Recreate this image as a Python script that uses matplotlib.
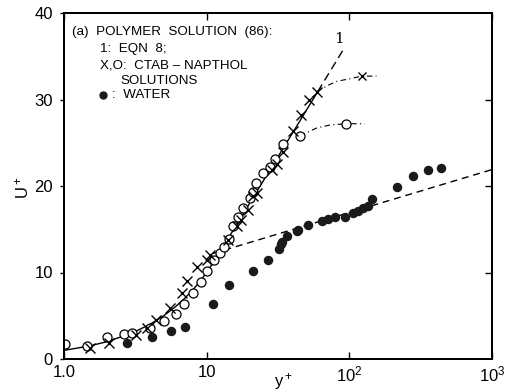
import matplotlib
matplotlib.use('Agg')
import matplotlib.pyplot as plt
from matplotlib.lines import Line2D

plt.rcParams['font.family'] = ['Liberation Sans', 'DejaVu Sans']
plt.rcParams['mathtext.fontset'] = 'custom'
plt.rcParams['mathtext.rm'] = 'Liberation Sans'
plt.rcParams['mathtext.it'] = 'Liberation Sans:italic'

# water data (filled dots)
water_y = [2.75, 4.12, 5.59, 7.05, 11.0, 14.3, 21.2, 26.8, 32.3, 33.2, 33.9, 36.7, 42.7, 43.9,
           51.5, 64.0, 71.1, 79.3, 93.1, 106.5, 115.4, 125.1, 135.6, 143.3, 214.5, 280.5, 353.8, 438.5]
water_u = [1.82, 2.58, 3.27, 3.66, 6.32, 8.5, 10.17, 11.45, 12.68, 13.3, 13.56, 14.25, 14.8, 14.9,
           15.5, 15.95, 16.2, 16.45, 16.4, 16.9, 17.1, 17.4, 17.7, 18.45, 19.85, 21.1, 21.85, 22.1]

# CTAB - napthol solutions, open circles
circ_y = [1.02, 1.46, 2.01, 2.63, 3.01, 4.0, 5.02, 6.06, 6.93, 8.06, 9.11, 10.1, 11.2, 12.4,
          13.3, 14.3, 15.4, 16.6, 18.1, 20.1, 21.2, 22.2, 24.9, 27.8, 30.0, 34.4, 45.0]
circ_u = [1.73, 1.54, 2.58, 2.89, 2.97, 3.6, 4.43, 5.16, 6.36, 7.6, 8.94, 10.2, 11.5, 12.2,
          13.0, 13.9, 15.4, 16.4, 17.5, 18.6, 19.3, 20.4, 21.5, 22.2, 23.1, 24.8, 25.8]

# CTAB - napthol solutions, crosses
cross_y = [1.52, 2.06, 3.18, 3.8, 4.42, 5.55, 6.68, 7.25, 8.5, 10.0, 10.5, 14.2, 16.2, 17.5,
           19.6, 21.2, 22.4, 28.6, 31.0, 34.4, 40.4, 45.5, 52.5, 58.9]
cross_u = [1.24, 1.88, 2.8, 3.55, 4.5, 5.95, 7.65, 9.05, 10.6, 11.4, 12.0, 13.75, 15.4, 16.1,
           17.2, 18.8, 19.2, 21.8, 22.6, 23.9, 26.4, 28.2, 29.9, 30.9]

# dash-dot curves leaving the asymptote, with their end markers
xcurve_y = [58.9, 70.0, 81.5, 101.0, 122.0, 155.0]
xcurve_u = [30.9, 31.6, 32.1, 32.4, 32.7, 32.7]
xend_y, xend_u = [122.0], [32.7]
ocurve_y = [45.0, 58.9, 73.0, 94.9, 128.0]
ocurve_u = [25.8, 26.7, 27.05, 27.2, 27.2]
oend_y, oend_u = [94.9], [27.2]

# eqn 8: sublayer part, then the maximum drag reduction asymptote
sub_y = [1.0, 1.5, 2.0, 3.0, 4.0, 5.0, 6.0, 7.0, 8.0, 9.0, 10.0, 11.6]
sub_u = [1.0, 1.5, 2.0, 3.0, 4.0, 5.0, 6.0, 7.0, 8.0, 9.0, 10.0, 11.6]
mdr_y = [11.6, 60.0]
mdr_u = [11.6, 30.9]
mdr_top_y = [60.0, 91.0]
mdr_top_u = [30.9, 35.8]

# Newtonian log law
loglaw_y = [11.1, 1000.0]
loglaw_u = [12.2, 21.9]

W, H = 505, 392
fig = plt.figure(figsize=(W / 100, H / 100), dpi=100)
ax = fig.add_axes([64 / W, 33 / H, 428 / W, 346 / H])

ax.plot(sub_y, sub_u, color='k', lw=1.0)
ax.plot(mdr_y, mdr_u, color='k', lw=1.0)
ax.plot(mdr_top_y, mdr_top_u, color='k', lw=1.0, dashes=(6, 3.5))
ax.plot(loglaw_y, loglaw_u, color='k', lw=1.0, dashes=(5, 3.5))
ax.plot(xcurve_y, xcurve_u, color='k', lw=0.8, dashes=(5, 3, 1, 3))
ax.plot(ocurve_y, ocurve_u, color='k', lw=0.8, dashes=(5, 3, 1, 3))

ax.plot(circ_y, circ_u, 'o', ms=6.5, mfc='white', mec='k', mew=0.9, ls='')
ax.plot(oend_y, oend_u, 'o', ms=6.5, mfc='white', mec='k', mew=0.9, ls='')
ax.plot(cross_y, cross_u, 'x', ms=7, mec='k', mew=1.0, ls='')
ax.plot(xend_y, xend_u, 'x', ms=5.5, mec='k', mew=1.0, ls='')
ax.plot(water_y, water_u, 'o', ms=5.8, mfc='#1a1a1a', mec='#1a1a1a', ls='')

ax.text(84.6, 37.0, '1', family='DejaVu Serif', fontsize=11, ha='center', va='center')

ax.set_xscale('log')
ax.set_xlim(1, 1000)
ax.set_ylim(0, 40)
ax.set_xticks([1, 10, 100, 1000])
ax.set_xticklabels(['1.0', '10', r'10$^2$', r'10$^3$'])
ax.set_yticks([0, 10, 20, 30, 40])
ax.xaxis.set_minor_locator(matplotlib.ticker.NullLocator())
ax.tick_params(axis='x', direction='in', length=5, width=1.0, top=True, labelsize=12, pad=4)
ax.tick_params(axis='y', direction='out', length=3, width=1.0, labelsize=12, pad=5)

# inward ticks on the right hand side
axr = ax.twinx()
axr.set_ylim(0, 40)
axr.set_yticks([10, 20, 30])
axr.tick_params(direction='in', length=5, width=1.0, labelright=False)
for a in (ax, axr):
    for s in a.spines.values():
        s.set_linewidth(1.4)

fig.text(283 / W, 1 - 382 / H, r'y$^+$', fontsize=12, ha='center', va='center')
fig.text(22 / W, 1 - 188 / H, r'U$^+$', fontsize=12, rotation=90, ha='center', va='center')

# key in the upper left
fs = 9.6
def put(x, y, s):
    fig.text(x / W, 1 - y / H, s, fontsize=fs, ha='left', va='center')

put(72, 32, '(a)  POLYMER  SOLUTION  (86):')
put(100, 49, '1:  EQN  8;')
put(100, 66, 'X,O:  CTAB – NAPTHOL')
put(120, 80.5, 'SOLUTIONS')
put(112, 95, ':  WATER')
fig.lines.append(Line2D([103 / W], [1 - 95 / H], marker='o', ms=5, color='#1a1a1a',
                        ls='', transform=fig.transFigure))

fig.savefig('out.png', dpi=100)
